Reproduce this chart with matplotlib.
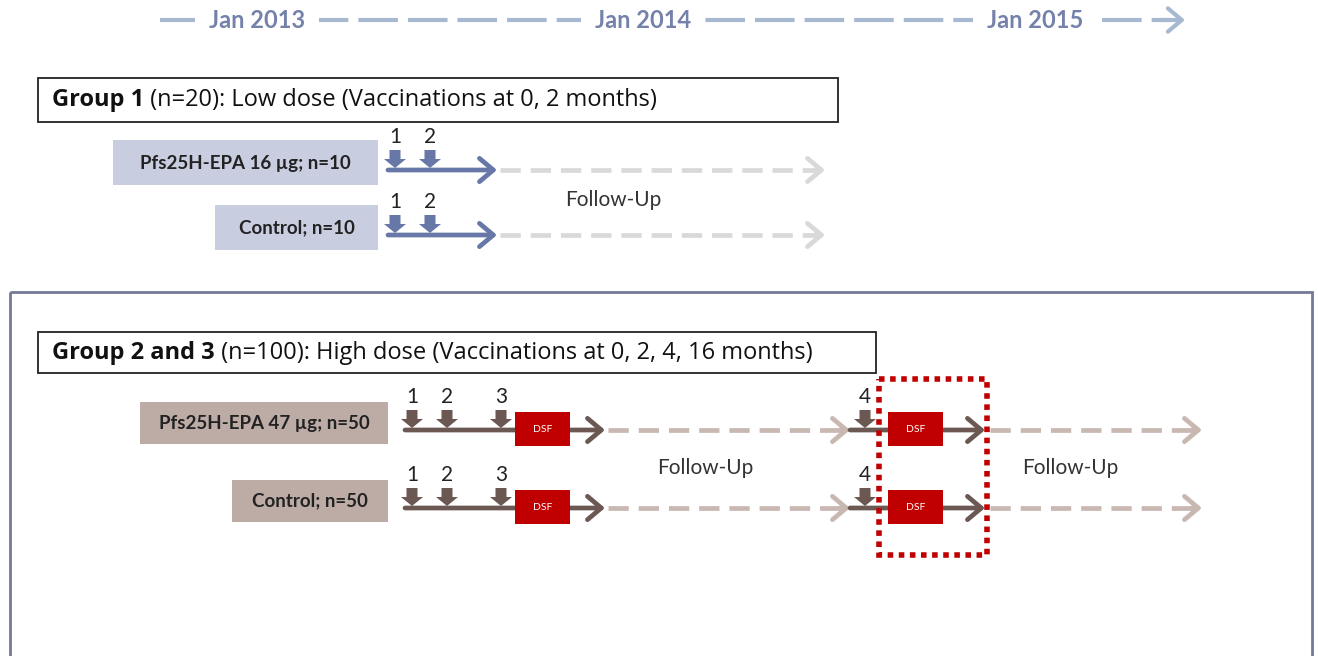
import matplotlib.pyplot as plt
from matplotlib.patches import Rectangle, FancyArrow

# ---- data ----
years = ['Jan 2013', 'Jan 2014', 'Jan 2015']
group_bold = ['Group 1', 'Group 2 and 3']
group_rest = [' (n=20): Low dose (Vaccinations at 0, 2 months)',
              ' (n=100): High dose (Vaccinations at 0, 2, 4, 16 months)']
g1_arms = ['Pfs25H-EPA 16 µg; n=10', 'Control; n=10']
g2_arms = ['Pfs25H-EPA 47 µg; n=50', 'Control; n=50']
g1_doses = ['1', '2']
g2_doses = ['1', '2', '3', '4']
follow_label = 'Follow-Up'
dsf_label = 'DSF'

# ---- layout (pixels) ----
year_x = [257, 643, 1035]
g1_rows = [170, 235]
g1_box_left = [113, 215]
g1_dose_x = [395, 430]
g2_rows = [430, 508]
g2_box_left = [140, 232]
g2_dose_x = [412, 447, 501, 865]

plt.rcParams['font.family'] = ['Lato', 'DejaVu Sans']
fig = plt.figure(figsize=(13.18, 6.56), dpi=100)
ax = fig.add_axes([0, 0, 1, 1])
ax.set_xlim(0, 1318)
ax.set_ylim(656, 0)
ax.axis('off')


def chevron(x0, x1, y, color, lw=3.4):
    ax.annotate('', xy=(x1, y), xytext=(x0, y),
                arrowprops=dict(arrowstyle='->,head_length=0.5,head_width=0.42',
                                color=color, lw=lw, shrinkA=0, shrinkB=0,
                                mutation_scale=20), zorder=2)


def dashed(x0, x1, y, color, lw=3.4):
    ax.plot([x0, x1 - 8], [y, y], color=color, lw=lw, dashes=(4.3, 2.1),
            solid_capstyle='butt', dash_capstyle='butt')
    chevron(x1 - 10, x1, y, color, lw)


def dose(x, y, label, color):
    ax.add_patch(FancyArrow(x, y - 20, 0, 18, width=11, head_width=22,
                            head_length=9, length_includes_head=True,
                            color=color, lw=0, zorder=3))
    ax.text(x, y - 23, label, ha='center', va='bottom', fontsize=15,
            color='#222222')


def header(x, y, bold, rest):
    t = ax.text(x, y, bold, fontsize=17, fontweight='bold', va='center',
                ha='left', color='#111111', family=['Open Sans', 'DejaVu Sans'])
    ax.annotate(rest, xy=(1, 0), xycoords=t, va='bottom', ha='left',
                fontsize=17, color='#111111', family=['Open Sans', 'DejaVu Sans'])


# ---- top timeline ----
tl_col = '#a7b9d1'
ax.plot([160, 1170], [20, 20], color=tl_col, lw=3, dashes=(9.5, 2.4),
        dash_capstyle='butt')
chevron(1160, 1185, 20, tl_col, lw=3)
for yx, yl in zip(year_x, years):
    ax.text(yx, 21, yl, ha='center', va='center', fontsize=17,
            fontweight='bold', color='#7482ab',
            bbox=dict(facecolor='white', edgecolor='none', pad=10))

# ---- group 1 ----
ax.add_patch(Rectangle((38, 78), 800, 44, facecolor='white',
                       edgecolor='#222222', lw=1.3))
header(52, 100, group_bold[0], group_rest[0])
g1_col = '#6777a7'
for y, left, arm in zip(g1_rows, g1_box_left, g1_arms):
    ax.add_patch(Rectangle((left, y - 30), 378 - left, 45,
                           facecolor='#c9cde0', edgecolor='none'))
    ax.text((left + 378) / 2, y - 7, arm, ha='center', va='center',
            fontsize=13.5, fontweight='bold', color='#222222')
    chevron(388, 497, y, g1_col)
    dashed(500, 825, y, '#d9d9d9')
    for dx, dl in zip(g1_dose_x, g1_doses):
        dose(dx, y, dl, g1_col)
ax.text(613, 200, follow_label, ha='center', va='center', fontsize=15,
        color='#333333')

# ---- group 2 and 3 ----
ax.add_patch(Rectangle((10, 292), 1302, 380, facecolor='none',
                       edgecolor='#737a96', lw=2))
ax.add_patch(Rectangle((38, 332), 838, 41, facecolor='white',
                       edgecolor='#222222', lw=1.3))
header(52, 353, group_bold[1], group_rest[1])
g2_col = '#6c5852'
g2_dash = '#c9b8b2'
for y, left, arm in zip(g2_rows, g2_box_left, g2_arms):
    ax.add_patch(Rectangle((left, y - 28), 388 - left, 42,
                           facecolor='#bdaba5', edgecolor='none'))
    ax.text((left + 388) / 2, y - 7, arm, ha='center', va='center',
            fontsize=13.5, fontweight='bold', color='#222222')
    chevron(405, 605, y, g2_col)
    dashed(608, 850, y, g2_dash)
    chevron(850, 985, y, g2_col)
    dashed(990, 1202, y, g2_dash)
    for bx in (515, 888):
        ax.add_patch(Rectangle((bx, y - 18), 55, 34, facecolor='#c00000',
                               edgecolor='none', zorder=4))
        ax.text(bx + 27.5, y - 1, dsf_label, ha='center', va='center',
                fontsize=7.5, color='white', zorder=5)
    for dx, dl in zip(g2_dose_x, g2_doses):
        dose(dx, y, dl, g2_col)
for fx in (705, 1070):
    ax.text(fx, 468, follow_label, ha='center', va='center', fontsize=15,
            color='#333333')

# highlighted second DSF
ax.add_patch(Rectangle((879, 379), 108, 176, facecolor='none',
                       edgecolor='#c00000', lw=4, ls=(0, (1, 1)), zorder=6))

fig.savefig('out.png', dpi=100)
